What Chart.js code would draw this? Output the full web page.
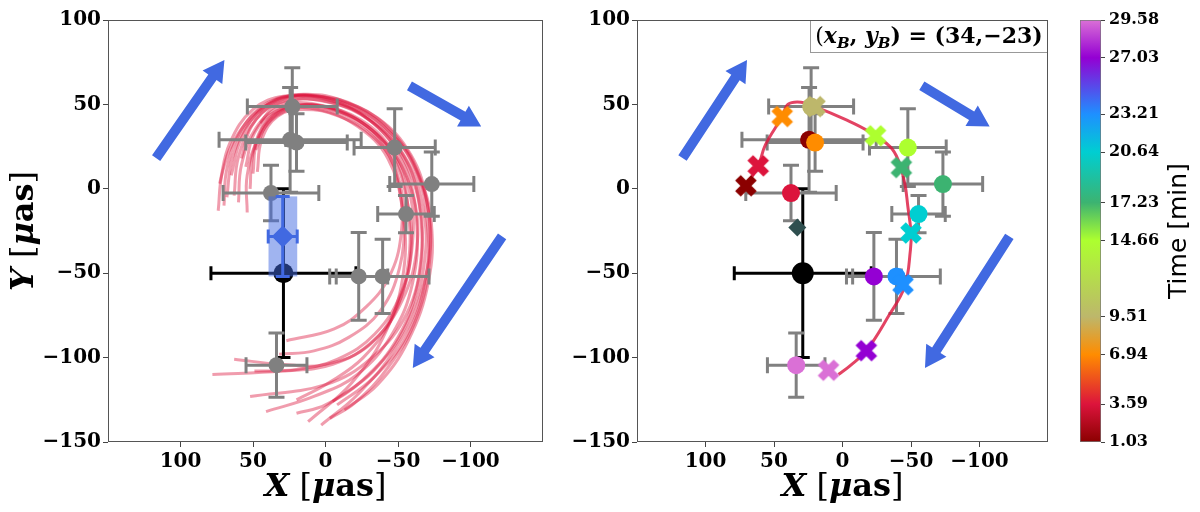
<!DOCTYPE html>
<html>
<head>
<meta charset="utf-8">
<script src="https://cdn.jsdelivr.net/npm/chart.js@4.4.1/dist/chart.umd.min.js"></script>
<style>
body{margin:0;background:#fff;width:1200px;height:512px;overflow:hidden;position:relative}
canvas{position:absolute;top:0}
</style>
</head>
<body>
<canvas id="left" width="560" height="512" style="left:0"></canvas>
<canvas id="right" width="500" height="512" style="left:560px"></canvas>
<canvas id="cbar" width="140" height="512" style="left:1060px"></canvas>
<script>
// observation times (also the colorbar ticks)
var times = [1.03, 3.59, 6.94, 9.51, 14.66, 17.23, 20.64, 23.21, 27.03, 29.58];
var timeColors = ['#8B0000','#DC143C','#FF8C00','#BDB76B','#ADFF2F','#3CB371','#00CED1','#1E90FF','#9400D3','#DA70D6'];

// observed positions + errors
var obsX = [24.4, 37.6, 20.0, 22.9, -47.7, -73.3, -55.5, -39.4, -22.9, 33.8];
var obsY = [29.0, -2.5, 27.4, 48.7, 24.4, 2.8, -15.0, -51.9, -51.9, -104.5];
var obsErrX = [49, 33, 35, 31, 28, 29, 19.5, 32, 20, 21];
var obsErrY = [31, 16.5, 17, 23, 23, 19, 11, 22, 26, 19];

// model positions at the same times
var modelX = [70.5, 61.5, 44.0, 20.1, -24.1, -43.0, -50.0, -44.2, -17.4, 10.2];
var modelY = [1.8, 13.6, 42.8, 48.7, 31.4, 12.6, -26.2, -56.8, -95.9, -107.5];

// best fit orbit (right panel)
var fitX = [70.5, 61.5, 56.3, 44.0, 39.7, 30.3, 20.1, -2.8, -19.4, -34.7, -40.6, -45.4, -47.7, -50.0, -49.6, -45.4, -33.5, -17.4, -5.2, 3.0];
var fitY = [1.8, 13.6, 26.0, 42.8, 50.1, 51.3, 48.7, 40.8, 33.9, 25.0, 17.2, 3.4, -10.5, -26.2, -36.0, -57.8, -75.5, -95.9, -105.0, -110.0];

// Sgr A* reference point
var sgrX = [29], sgrY = [-50], sgrErrX = [50], sgrErrY = [50];
// fitted centre (left) and box
var cenX = [29.5], cenY = [-28.2], cenErrX = [10], cenErrY = [23.7];
var boxX = [39.3, 19.5], boxY = [-4.5, -51.9];
// best centre (right)
var bestX = [33], bestY = [-23];

// arrows: tail -> tip
var arrowTail = [[116.8, 18.2], [-57.9, 61.0], [-121.8, -28.2]];
var arrowTip = [[69.7, 76.3], [-107.4, 36.9], [-60.2, -106.1]];

// posterior sample orbits (left panel)
var sampleCurves = [
  [[74,-13],[71,10],[60,33],[40,50],[15,56],[-15,51],[-45,33],[-64,8],[-72,-25],[-66,-62],[-48,-95],[-22,-122],[3,-140]],
  [[54,-14],[54,8],[45,32],[28,46],[5,47],[-22,37],[-43,18],[-53,-12],[-54,-48],[-42,-84],[-18,-115],[12,-138]],
  [[73,3],[66,27],[50,47],[28,55],[0,53],[-30,42],[-54,20],[-67,-10],[-68,-45],[-56,-80],[-33,-108],[-5,-126]],
  [[55,13],[49,33],[34,46],[12,49],[-17,42],[-40,25],[-51,0],[-52,-28],[-44,-52],[-28,-70],[-6,-83],[27,-90]],
  [[48,23],[40,39],[25,48],[3,49],[-24,41],[-46,23],[-58,-2],[-60,-32],[-52,-62],[-34,-86],[-8,-101],[20,-107],[49,-108]],
  [[50,9],[47,29],[35,44],[15,50],[-12,45],[-38,30],[-56,7],[-63,-22],[-60,-56],[-46,-86],[-22,-110],[8,-123],[41,-132]],
  [[63,-4],[60,19],[48,41],[28,52],[2,52],[-28,42],[-52,22],[-64,-5],[-66,-40],[-56,-74],[-32,-100],[0,-116],[52,-123]],
  [[45,39],[36,48],[18,53],[-5,51],[-30,41],[-50,21],[-61,-5],[-63,-35],[-53,-66],[-33,-90],[-5,-104],[30,-108],[78,-110]],
  [[60,-8],[58,14],[48,36],[30,49],[6,50],[-22,41],[-45,21],[-56,-6],[-59,-36],[-51,-66],[-31,-92],[0,-104],[30,-104],[63,-101]],
  [[68,-5],[64,19],[51,41],[31,53],[6,55],[-24,48],[-50,30],[-65,7],[-73,-20],[-71,-55],[-57,-90],[-36,-116],[-13,-131]],
  [[52,0],[50,21],[40,41],[22,49],[-5,47],[-32,35],[-50,15],[-57,-12],[-57,-45],[-47,-75],[-26,-100],[-2,-115],[20,-125]],
  [[65,8],[58,30],[43,48],[22,55],[-6,53],[-36,42],[-59,20],[-70,-8],[-72,-40],[-63,-76],[-43,-106],[-20,-127],[-3,-136]],
  [[47,10],[44,29],[33,43],[15,47],[-9,43],[-34,30],[-49,10],[-54,-18],[-51,-47],[-38,-72],[-16,-88],[8,-96],[32,-98]],
  [[58,18],[51,37],[36,50],[13,55],[-17,49],[-44,34],[-62,11],[-70,-18],[-69,-53],[-56,-87],[-33,-112],[-8,-128]],
  [[70,-10],[68,12],[58,35],[40,51],[17,55],[-12,50],[-40,33],[-58,10],[-66,-20],[-64,-55],[-50,-88],[-26,-113],[0,-128],[20,-133]]
];

// axes
var xLimits = [-150, 150], yLimits = [-150, 100];
var xTicks = [100, 50, 0, -50, -100];
var yTicks = [100, 50, 0, -50, -100, -150];

var SERIF = "'DejaVu Serif'";
var GRAY = '#808080';
var BLUE = '#4169E1';

function pts(xs, ys) {
  return xs.map(function (x, i) { return {x: x, y: ys[i]}; });
}
function minus(v) {
  return v < 0 ? '\u2212' + Math.abs(v) : String(v);
}

function xMark(color) {
  var c = document.createElement('canvas');
  c.width = 24; c.height = 24;
  var g = c.getContext('2d');
  g.strokeStyle = color;
  g.lineWidth = 8;
  g.lineCap = 'butt';
  g.beginPath();
  g.moveTo(4, 4); g.lineTo(20, 20);
  g.moveTo(20, 4); g.lineTo(4, 20);
  g.stroke();
  return c;
}
var xMarks = timeColors.map(xMark);

function drawRuns(ctx, runs, x, y, center) {
  var w = 0;
  runs.forEach(function (r) { ctx.font = r.f; r.w = ctx.measureText(r.t).width; w += r.w; });
  var cx = center ? x - w / 2 : x;
  ctx.textAlign = 'left';
  runs.forEach(function (r) { ctx.font = r.f; ctx.fillText(r.t, cx, y + (r.dy || 0)); cx += r.w; });
}

function titleRuns(letter) {
  return [
    {t: letter, f: 'italic bold 32px ' + SERIF},
    {t: ' [', f: '32px ' + SERIF},
    {t: '\u03bc', f: 'italic bold 32px ' + SERIF},
    {t: 'as', f: 'bold 32px ' + SERIF},
    {t: ']', f: '32px ' + SERIF}
  ];
}

// error bars, boxes, arrows, frame, titles
var extras = {
  id: 'extras',
  beforeDatasetDraw: function (chart, args) {
    var ds = chart.data.datasets[args.index];
    var xs = chart.scales.x, ys = chart.scales.y, c = chart.ctx;
    if (ds.box) {
      var x0 = xs.getPixelForValue(ds.box[0][0]), x1 = xs.getPixelForValue(ds.box[0][1]);
      var y0 = ys.getPixelForValue(ds.box[1][0]), y1 = ys.getPixelForValue(ds.box[1][1]);
      c.save();
      c.fillStyle = 'rgba(65,105,225,0.5)';
      c.fillRect(Math.min(x0, x1), Math.min(y0, y1), Math.abs(x1 - x0), Math.abs(y1 - y0));
      c.restore();
    }
    if (!ds.errX) return;
    c.save();
    c.strokeStyle = ds.errColor;
    c.lineWidth = 3;
    var cap = ds.cap || 8;
    ds.data.forEach(function (p, i) {
      var px = xs.getPixelForValue(p.x), py = ys.getPixelForValue(p.y);
      var xa = xs.getPixelForValue(p.x - ds.errX[i]), xb = xs.getPixelForValue(p.x + ds.errX[i]);
      var ya = ys.getPixelForValue(p.y - ds.errY[i]), yb = ys.getPixelForValue(p.y + ds.errY[i]);
      c.beginPath();
      c.moveTo(xa, py); c.lineTo(xb, py);
      c.moveTo(px, ya); c.lineTo(px, yb);
      c.moveTo(xa, py - cap); c.lineTo(xa, py + cap);
      c.moveTo(xb, py - cap); c.lineTo(xb, py + cap);
      c.moveTo(px - cap, ya); c.lineTo(px + cap, ya);
      c.moveTo(px - cap, yb); c.lineTo(px + cap, yb);
      c.stroke();
    });
    c.restore();
  },
  afterDatasetsDraw: function (chart) {
    var xs = chart.scales.x, ys = chart.scales.y, c = chart.ctx;
    c.save();
    c.fillStyle = BLUE;
    arrowTail.forEach(function (t, i) {
      var ax = xs.getPixelForValue(t[0]), ay = ys.getPixelForValue(t[1]);
      var bx = xs.getPixelForValue(arrowTip[i][0]), by = ys.getPixelForValue(arrowTip[i][1]);
      var len = Math.hypot(bx - ax, by - ay);
      var ux = (bx - ax) / len, uy = (by - ay) / len, nx = -uy, ny = ux;
      var w = 5, hw = 12, hl = 21;
      var mx = bx - ux * hl, my = by - uy * hl;
      c.beginPath();
      c.moveTo(ax + nx * w, ay + ny * w);
      c.lineTo(mx + nx * w, my + ny * w);
      c.lineTo(mx + nx * hw, my + ny * hw);
      c.lineTo(bx, by);
      c.lineTo(mx - nx * hw, my - ny * hw);
      c.lineTo(mx - nx * w, my - ny * w);
      c.lineTo(ax - nx * w, ay - ny * w);
      c.closePath();
      c.fill();
    });
    c.restore();
  },
  afterDraw: function (chart) {
    var a = chart.chartArea, c = chart.ctx;
    c.save();
    if (chart.canvas.id === 'right') {
      var left = a.left + 173;
      c.fillStyle = '#fff';
      c.fillRect(left, a.top, a.right - left, 32);
      c.strokeStyle = '#999';
      c.lineWidth = 1;
      c.strokeRect(left + 0.5, a.top + 0.5, a.right - left - 1, 32);
      c.fillStyle = '#000';
      c.textBaseline = 'alphabetic';
      drawRuns(c, [
        {t: '(', f: '22px ' + SERIF},
        {t: 'x', f: 'italic bold 22px ' + SERIF},
        {t: 'B', f: 'italic bold 15px ' + SERIF, dy: 5},
        {t: ', ', f: 'bold 22px ' + SERIF},
        {t: 'y', f: 'italic bold 22px ' + SERIF},
        {t: 'B', f: 'italic bold 15px ' + SERIF, dy: 5},
        {t: ') = (34,\u221223)', f: 'bold 22px ' + SERIF}
      ], (left + a.right) / 2, a.top + 23, true);
    }
    c.strokeStyle = '#555';
    c.lineWidth = 1;
    c.strokeRect(a.left + 0.5, a.top + 0.5, a.right - a.left - 1, a.bottom - a.top - 1);
    c.fillStyle = '#000';
    c.textBaseline = 'alphabetic';
    drawRuns(c, titleRuns('X'), (a.left + a.right) / 2, 496, true);
    if (chart.canvas.id === 'left') {
      c.translate(33, (a.top + a.bottom) / 2);
      c.rotate(-Math.PI / 2);
      drawRuns(c, titleRuns('Y'), 0, 0, true);
    }
    c.restore();
  }
};

function scales(yWidth) {
  var tickFont = {family: 'DejaVu Serif', weight: 'bold', size: 20};
  return {
    x: {
      type: 'linear', min: xLimits[0], max: xLimits[1], reverse: true,
      afterBuildTicks: function (s) { s.ticks = xTicks.map(function (v) { return {value: v}; }); },
      afterFit: function (s) { s.height = 70; },
      ticks: {font: tickFont, color: '#000', padding: 3, maxRotation: 0, autoSkip: false, callback: minus},
      grid: {drawOnChartArea: false, tickLength: 5, color: '#444'},
      border: {display: false}
    },
    y: {
      type: 'linear', min: yLimits[0], max: yLimits[1],
      afterBuildTicks: function (s) { s.ticks = yTicks.map(function (v) { return {value: v}; }); },
      afterFit: function (s) { s.width = yWidth; },
      ticks: {font: tickFont, color: '#000', padding: 2, autoSkip: false, callback: minus},
      grid: {drawOnChartArea: false, tickLength: 5, color: '#444'},
      border: {display: false}
    }
  };
}

function opts(yWidth, padRight) {
  return {
    responsive: false,
    animation: false,
    layout: {padding: {top: 20, right: padRight, left: 0, bottom: 0}},
    plugins: {legend: {display: false}, tooltip: {enabled: false}},
    scales: scales(yWidth)
  };
}

// left panel
var leftSets = [];
sampleCurves.forEach(function (cv) {
  leftSets.push({
    data: cv.map(function (p) { return {x: p[0], y: p[1]}; }),
    showLine: true, borderColor: 'rgba(220,20,60,0.42)', borderWidth: 3,
    pointRadius: 0, tension: 0.4, fill: false
  });
});
leftSets.push({
  data: pts(sgrX, sgrY), errX: sgrErrX, errY: sgrErrY, errColor: '#000', cap: 7,
  pointRadius: 10, backgroundColor: '#000', borderWidth: 0
});
leftSets.push({
  data: pts(obsX, obsY), errX: obsErrX, errY: obsErrY, errColor: GRAY,
  pointRadius: 8, backgroundColor: GRAY, borderWidth: 0
});
leftSets.push({
  data: pts(cenX, cenY), box: [boxX, boxY], errX: cenErrX, errY: cenErrY, errColor: BLUE, cap: 7,
  pointStyle: 'rectRot', pointRadius: 11, backgroundColor: BLUE, borderWidth: 0
});
leftSets.forEach(function (d, i) { d.order = leftSets.length - i; });

new Chart(document.getElementById('left'), {
  type: 'scatter',
  data: {datasets: leftSets},
  options: opts(108, 17),
  plugins: [extras]
});

// right panel
var rightSets = [
  {
    data: pts(sgrX, sgrY), errX: sgrErrX, errY: sgrErrY, errColor: '#000', cap: 7,
    pointRadius: 11, backgroundColor: '#000', borderWidth: 0
  },
  {
    data: pts(obsX, obsY), errX: obsErrX, errY: obsErrY, errColor: GRAY,
    pointRadius: 0, borderWidth: 0
  },
  {
    data: pts(fitX, fitY), showLine: true, borderColor: 'rgba(220,20,60,0.8)', borderWidth: 3,
    pointRadius: 0, tension: 0.4, fill: false
  },
  {
    data: pts(obsX, obsY), pointRadius: 9, backgroundColor: timeColors, borderWidth: 0
  },
  {
    data: pts(modelX, modelY), pointStyle: function (ctx) { return xMarks[ctx.dataIndex]; },
    pointRadius: 12, backgroundColor: timeColors, borderWidth: 0
  },
  {
    data: pts(bestX, bestY), pointStyle: 'rectRot', pointRadius: 9, backgroundColor: '#2F4F4F', borderWidth: 0
  }
];
rightSets.forEach(function (d, i) { d.order = rightSets.length - i; });

new Chart(document.getElementById('right'), {
  type: 'scatter',
  data: {datasets: rightSets},
  options: opts(77, 7),
  plugins: [extras]
});

// colorbar
function barGradient(chart) {
  var a = chart.chartArea;
  if (!a) return null;
  var ys = chart.scales.y;
  var g = chart.ctx.createLinearGradient(0, a.bottom, 0, a.top);
  times.forEach(function (t, i) {
    var off = (a.bottom - ys.getPixelForValue(t)) / (a.bottom - a.top);
    g.addColorStop(Math.min(1, Math.max(0, off)), timeColors[i]);
  });
  return g;
}

new Chart(document.getElementById('cbar'), {
  type: 'bar',
  data: {
    labels: [''],
    datasets: [{
      data: [[times[0], times[times.length - 1]]],
      backgroundColor: function (ctx) { return barGradient(ctx.chart); },
      borderColor: '#777', borderWidth: 1, borderSkipped: false,
      barPercentage: 1, categoryPercentage: 1
    }]
  },
  options: {
    responsive: false,
    animation: false,
    layout: {padding: {left: 20, top: 20, bottom: 70, right: 0}},
    plugins: {legend: {display: false}, tooltip: {enabled: false}},
    scales: {
      x: {display: false},
      y: {
        position: 'right', min: times[0], max: times[times.length - 1],
        afterBuildTicks: function (s) { s.ticks = times.map(function (v) { return {value: v}; }); },
        afterFit: function (s) { s.width = 99; },
        ticks: {
          font: {family: 'DejaVu Serif', weight: 'bold', size: 16}, color: '#000', padding: 4, autoSkip: false,
          callback: function (v) { return Number(v).toFixed(2); }
        },
        grid: {drawOnChartArea: false, tickLength: 4, color: '#444'},
        border: {display: false}
      }
    }
  },
  plugins: [{
    id: 'cbTitle',
    afterDraw: function (chart) {
      var c = chart.ctx, a = chart.chartArea;
      c.save();
      c.translate(119, (a.top + a.bottom) / 2);
      c.rotate(-Math.PI / 2);
      c.font = "25px 'DejaVu Sans'";
      c.fillStyle = '#000';
      c.textAlign = 'center';
      c.textBaseline = 'middle';
      c.fillText('Time [min]', 0, 0);
      c.restore();
    }
  }]
});
</script>
</body>
</html>
